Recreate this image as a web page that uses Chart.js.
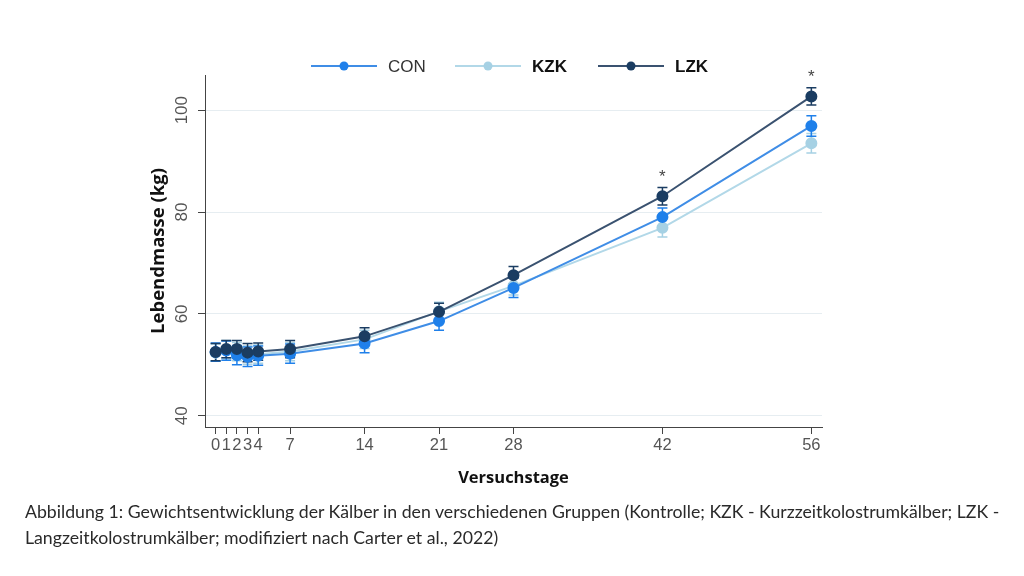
<!DOCTYPE html>
<html>
<head>
<meta charset="utf-8">
<script src="https://cdn.jsdelivr.net/npm/chart.js@4"></script>
<style>
  body { margin: 0; background: #fff; }
  #wrap { position: relative; width: 1024px; height: 576px; }
  #caption {
    position: absolute; left: 25px; top: 499px; width: 995px;
    font-family: Lato, sans-serif; font-size: 17.7px; line-height: 26px; color: #2a2a2a;
  }
</style>
</head>
<body>
<div id="wrap">
  <canvas id="chart" width="1024" height="576"></canvas>
  <div id="caption">Abbildung 1: Gewichtsentwicklung der Kälber in den verschiedenen Gruppen (Kontrolle; KZK - Kurzzeitkolostrumkälber; LZK - Langzeitkolostrumkälber; modifiziert nach Carter et al., 2022)</div>
</div>
<script>
// days of the trial
const days = [0, 1, 2, 3, 4, 7, 14, 21, 28, 42, 56]
const yTicks = [40, 60, 80, 100]

// mean live weight (kg)
const conMean = [52.5, 52.8, 51.9, 51.6, 51.8, 52.2, 54.2, 58.6, 65.1, 79.0, 96.9]
const kzkMean = [52.4, 53.0, 52.6, 51.9, 52.1, 52.6, 55.0, 60.5, 65.5, 76.9, 93.5]
const lzkMean = [52.5, 53.1, 53.1, 52.4, 52.6, 53.1, 55.6, 60.4, 67.6, 83.1, 102.7]

// error (kg, +/-)
const conErr = [1.8, 1.9, 1.9, 1.9, 1.9, 1.9, 1.8, 1.8, 1.9, 1.8, 2.0]
const kzkErr = [1.7, 1.8, 1.8, 1.8, 1.8, 1.8, 1.8, 1.8, 1.8, 1.8, 1.9]
const lzkErr = [1.7, 1.7, 1.7, 1.8, 1.7, 1.7, 1.7, 1.7, 1.7, 1.7, 1.7]

// significant days
const starDays = [42, 56]

const series = [
  { label: 'CON', mean: conMean, err: conErr, line: '#3f8de6', dot: '#1f80ea', bold: false, order: 1 },
  { label: 'KZK', mean: kzkMean, err: kzkErr, line: '#b2d8e8', dot: '#a6d1e4', bold: true, order: 2 },
  { label: 'LZK', mean: lzkMean, err: lzkErr, line: '#3a5270', dot: '#1b3d62', bold: true, order: 0 }
]

const errorBars = {
  id: 'errorBars',
  beforeDatasetsDraw(chart) {
    const ctx = chart.ctx
    const x = chart.scales.x, y = chart.scales.y
    const drawOrder = [1, 0, 2]
    drawOrder.forEach(i => {
      const s = series[i]
      ctx.save()
      ctx.strokeStyle = s.dot
      ctx.lineWidth = 1.5
      days.forEach((d, j) => {
        const px = x.getPixelForValue(d)
        const top = y.getPixelForValue(s.mean[j] + s.err[j])
        const bot = y.getPixelForValue(s.mean[j] - s.err[j])
        ctx.beginPath()
        ctx.moveTo(px, top); ctx.lineTo(px, bot)
        ctx.moveTo(px - 5, top); ctx.lineTo(px + 5, top)
        ctx.moveTo(px - 5, bot); ctx.lineTo(px + 5, bot)
        ctx.stroke()
      })
      ctx.restore()
    })
  },
  afterDatasetsDraw(chart) {
    const ctx = chart.ctx
    const x = chart.scales.x, y = chart.scales.y
    ctx.save()
    ctx.fillStyle = '#444'
    ctx.font = '17px "Liberation Sans"'
    ctx.textAlign = 'center'
    ctx.textBaseline = 'alphabetic'
    starDays.forEach(d => {
      const j = days.indexOf(d)
      const top = y.getPixelForValue(lzkMean[j] + lzkErr[j])
      ctx.fillText('*', x.getPixelForValue(d), top - 6)
    })
    ctx.restore()
  }
}

// y tick labels, rotated to read bottom-to-top
const yLabels = {
  id: 'yLabels',
  afterDraw(chart) {
    const ctx = chart.ctx
    const y = chart.scales.y
    ctx.save()
    ctx.fillStyle = '#555'
    ctx.font = '17px "Liberation Sans"'
    ctx.textAlign = 'center'
    ctx.textBaseline = 'middle'
    yTicks.forEach(v => {
      ctx.save()
      ctx.translate(y.right - 23, y.getPixelForValue(v))
      ctx.rotate(-Math.PI / 2)
      ctx.fillText(String(v), 0, 0)
      ctx.restore()
    })
    ctx.restore()
  }
}

const legendPlugin = {
  id: 'customLegend',
  afterDraw(chart) {
    const ctx = chart.ctx
    const starts = [311, 455, 598]
    const ly = 66
    ctx.save()
    series.forEach((s, i) => {
      const x0 = starts[i]
      ctx.strokeStyle = s.line
      ctx.lineWidth = 2
      ctx.beginPath()
      ctx.moveTo(x0, ly); ctx.lineTo(x0 + 66, ly)
      ctx.stroke()
      ctx.fillStyle = s.dot
      ctx.beginPath()
      ctx.arc(x0 + 33, ly, 4.5, 0, Math.PI * 2)
      ctx.fill()
      ctx.fillStyle = s.bold ? '#111' : '#333'
      ctx.font = (s.bold ? 'bold ' : '') + '17px "Liberation Sans"'
      ctx.textBaseline = 'middle'
      ctx.fillText(s.label, x0 + 77, ly + 1)
    })
    ctx.restore()
  }
}

const ctx = document.getElementById('chart').getContext('2d')

new Chart(ctx, {
  type: 'line',
  data: {
    datasets: series.map(s => ({
      label: s.label,
      data: days.map((d, j) => ({ x: d, y: s.mean[j] })),
      borderColor: s.line,
      backgroundColor: s.dot,
      pointBackgroundColor: s.dot,
      pointBorderColor: s.dot,
      pointRadius: 5,
      borderWidth: 2,
      order: s.order
    }))
  },
  options: {
    responsive: false,
    animation: false,
    layout: { padding: { left: 144, top: 75, right: 202, bottom: 84 } },
    plugins: {
      legend: { display: false },
      tooltip: { enabled: false }
    },
    scales: {
      x: {
        type: 'linear',
        min: -1,
        max: 57,
        afterBuildTicks: scale => { scale.ticks = days.map(v => ({ value: v })) },
        afterFit: scale => { scale.height = 65 },
        grid: { drawOnChartArea: false, drawTicks: true, tickLength: 7, color: '#444' },
        border: { color: '#444', width: 1 },
        ticks: {
          autoSkip: false, maxRotation: 0, padding: 2,
          color: '#555', font: { family: 'Liberation Sans', size: 16.5 }
        },
        title: {
          display: true, text: 'Versuchstage', color: '#111',
          font: { family: 'Open Sans', size: 16.5, weight: 'bold' }, padding: { top: 4 }
        }
      },
      y: {
        min: 37.8,
        max: 106.9,
        afterBuildTicks: scale => { scale.ticks = yTicks.map(v => ({ value: v })) },
        afterFit: scale => { scale.width = 61 },
        grid: { color: '#e6edf1', tickColor: '#444', tickLength: 7 },
        border: { color: '#444', width: 1 },
        ticks: {
          color: 'rgba(0,0,0,0)', padding: 4,
          font: { family: 'Liberation Sans', size: 15 }
        },
        title: {
          display: true, text: 'Lebendmasse (kg)', color: '#111',
          font: { family: 'Open Sans', size: 18.5, weight: 'bold' }, padding: { bottom: 0 }
        }
      }
    }
  },
  plugins: [errorBars, yLabels, legendPlugin]
})
</script>
</body>
</html>
